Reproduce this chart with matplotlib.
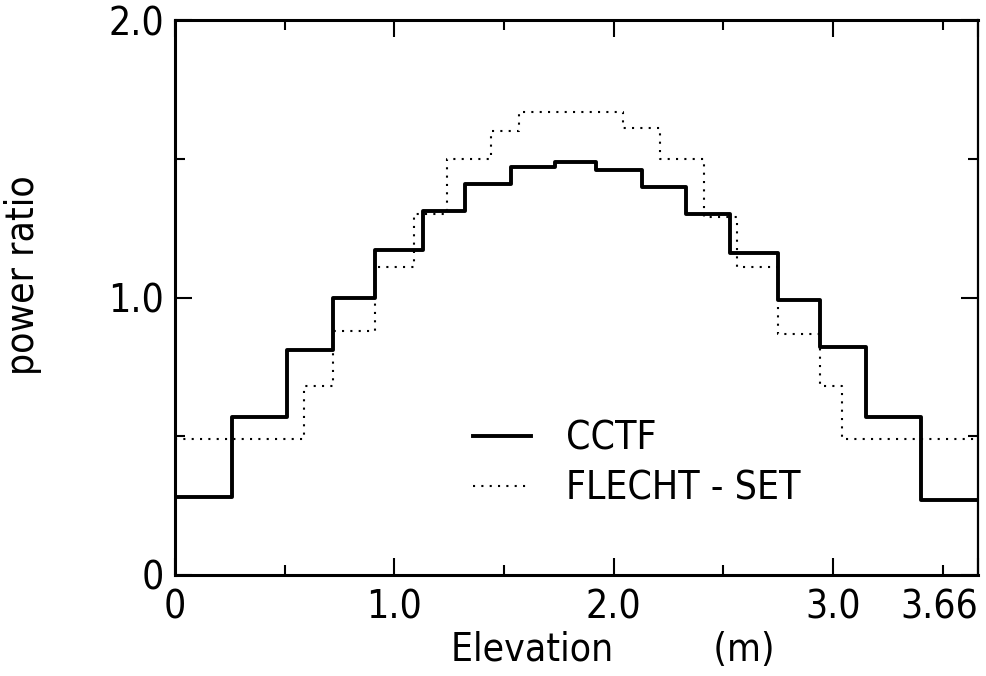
import matplotlib
matplotlib.use("Agg")
import matplotlib.pyplot as plt
from matplotlib.ticker import FixedLocator, MultipleLocator

plt.rcParams['font.family'] = ['DejaVu Sans']
plt.rcParams['font.stretch'] = 'condensed'

# axial power shape, step per heater segment
cctf_edges = [0, 0.26, 0.51, 0.72, 0.91, 1.13, 1.32, 1.53, 1.73, 1.92,
              2.13, 2.33, 2.53, 2.75, 2.94, 3.15, 3.40, 3.66]
cctf_vals = [0.28, 0.57, 0.81, 1.00, 1.17, 1.31, 1.41, 1.47, 1.49,
             1.46, 1.40, 1.30, 1.16, 0.99, 0.82, 0.57, 0.27]

flecht_edges = [0, 0.59, 0.72, 0.91, 1.09, 1.24, 1.44, 1.57, 2.04,
                2.21, 2.41, 2.56, 2.75, 2.94, 3.04, 3.66]
flecht_vals = [0.49, 0.68, 0.88, 1.11, 1.30, 1.50, 1.60, 1.67,
               1.61, 1.50, 1.29, 1.11, 0.87, 0.68, 0.49]

xticks = [0, 1.0, 2.0, 3.0, 3.66]
xticklabels = ['0', '1.0', '2.0', '3.0', '3.66']
yticks = [0, 1.0, 2.0]
yticklabels = ['0', '1.0', '2.0']

fig = plt.figure(figsize=(9.87, 6.76), dpi=100)
ax = fig.add_axes([175/987, 101/676, 803/987, 555/676])

ax.step(cctf_edges, cctf_vals + [cctf_vals[-1]], where='post',
        color='black', lw=2.8, label='CCTF')
ax.step(flecht_edges, flecht_vals + [flecht_vals[-1]], where='post',
        color='black', lw=1.5, linestyle=(0, (1, 3)), label='FLECHT - SET')

ax.set_xlim(0, 3.66)
ax.set_ylim(0, 2.0)

ax.xaxis.set_major_locator(FixedLocator(xticks))
ax.set_xticklabels(xticklabels)
ax.xaxis.set_minor_locator(FixedLocator([0.5, 1.5, 2.5, 3.5]))
ax.yaxis.set_major_locator(FixedLocator(yticks))
ax.set_yticklabels(yticklabels)
ax.yaxis.set_minor_locator(MultipleLocator(0.5))
ax.get_xticklabels()[-1].set_horizontalalignment('right')

ax.tick_params(which='both', direction='in', top=True, right=True,
               width=1.5, labelsize=28)
ax.tick_params(which='major', length=12)
ax.tick_params(which='minor', length=7)
ax.tick_params(axis='x', pad=10)
ax.tick_params(axis='y', pad=8)

for side in ['left', 'bottom', 'top']:
    ax.spines[side].set_linewidth(2.2)
ax.spines['right'].set_linewidth(1.6)

ax.set_xlabel('Elevation         (m)', fontsize=28)
ax.xaxis.set_label_coords(0.545, -0.10)
ax.set_ylabel('power ratio', fontsize=28)
ax.yaxis.set_label_coords(-0.166, 0.54)

ax.legend(loc='upper left', bbox_to_anchor=(0.371, 0.28), frameon=False,
          fontsize=28, handlelength=1.5, handletextpad=0.9,
          labelspacing=0.3, borderpad=0, borderaxespad=0)

fig.savefig('out.png', dpi=100)
